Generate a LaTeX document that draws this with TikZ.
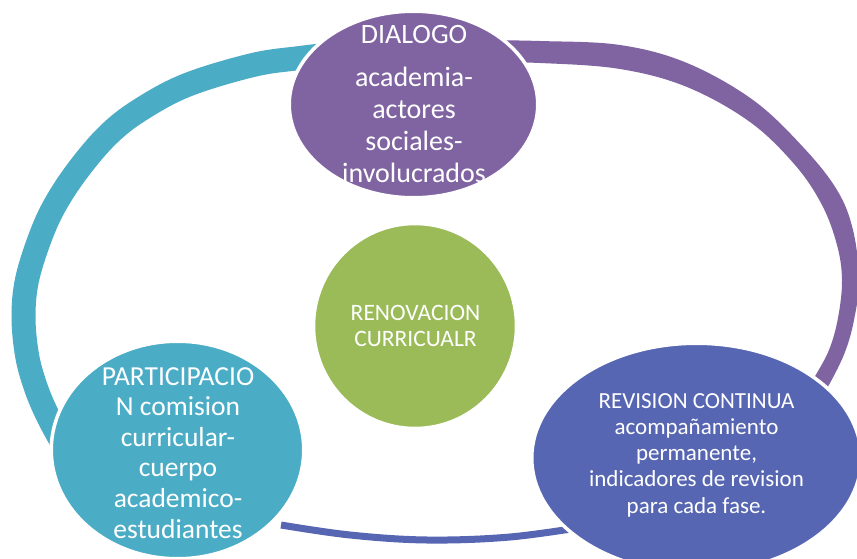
\documentclass[tikz,border=0pt]{standalone}
\usepackage{fontspec}
\setmainfont{Carlito}
\usetikzlibrary{shapes.geometric}
\definecolor{cteal}{RGB}{75,172,198}
\definecolor{cpurple}{RGB}{128,100,162}
\definecolor{cgreen}{RGB}{155,187,89}
\definecolor{cblue}{RGB}{87,102,178}
\begin{document}
\begin{tikzpicture}[x=1pt,y=-1pt,
  bubble/.style={ellipse, draw=white, line width=3.5pt, inner sep=0pt},
  ctext/.style={text=white, align=flush center, text width=#1, inner sep=0pt, anchor=base},
  band/.style={line cap=butt},
]
\fill[white] (0,0) rectangle (857,559);
\useasboundingbox (0,0) rectangle (857,559);

% cycle arcs
\draw[band, cteal, line width=24pt] plot[smooth, tension=0.6] coordinates {
  (335,54) (300,58) (253,65) (187,85) (140,110) (108,135) (78,170) (55,205)
  (40,238) (27,280) (23.5,317) (27,355) (35,385) (46,412) (62,442) (80,470)};
\fill[cpurple] plot[smooth, tension=0.6] coordinates {
  (470,40) (540,41) (620,45) (687,63) (753,100) (803,147) (837,190) (853,230)
  (859,280) (854,320) (845,352) (830,383) (816,405)}
  -- plot[smooth, tension=0.6] coordinates {
  (802,398) (814,378) (829,350) (838,318) (842,280) (837,245) (822,205)
  (795,165) (750,122) (687,87) (620,69) (540,63) (470,62)} -- cycle;
\draw[band, cblue, line width=7pt] plot[smooth, tension=0.6] coordinates {
  (281,525) (350,535) (427,540) (510,537) (590,526)};

% circles
\node[bubble, fill=cpurple, minimum width=248.5pt, minimum height=186.5pt] (dialogo) at (413.5,104.5) {};
\node[bubble, fill=cteal, minimum width=252.5pt, minimum height=217.5pt] (particip) at (177.5,450) {};
\node[bubble, fill=cblue, minimum width=329.5pt, minimum height=229.5pt] (revision) at (696.5,458) {};
\node[bubble, fill=cgreen, minimum width=203pt, minimum height=205pt] (renov) at (415,326) {};

% texts
\node[ctext=270pt, font=\fontsize{28}{32}\selectfont] (tdialogo) at (414,44)
  {DIALOGO\\[11pt]academia-\\actores\\sociales-\\involucrados};
\node[ctext=260pt, font=\fontsize{27.5}{30.6}\selectfont] (tparticip) at (178,385)
  {PARTICIPACIO\\N comision\\curricular-\\cuerpo\\academico-\\estudiantes};
\node[ctext=300pt, font=\fontsize{23}{26.25}\selectfont] (trevision) at (696.5,408)
  {REVISION CONTINUA\\acompañamiento\\permanente,\\indicadores de revision\\para cada fase.};
\node[ctext=200pt, font=\fontsize{23.5}{26}\selectfont] (trenov) at (415.5,320)
  {RENOVACION\\CURRICUALR};
\end{tikzpicture}
\end{document}
